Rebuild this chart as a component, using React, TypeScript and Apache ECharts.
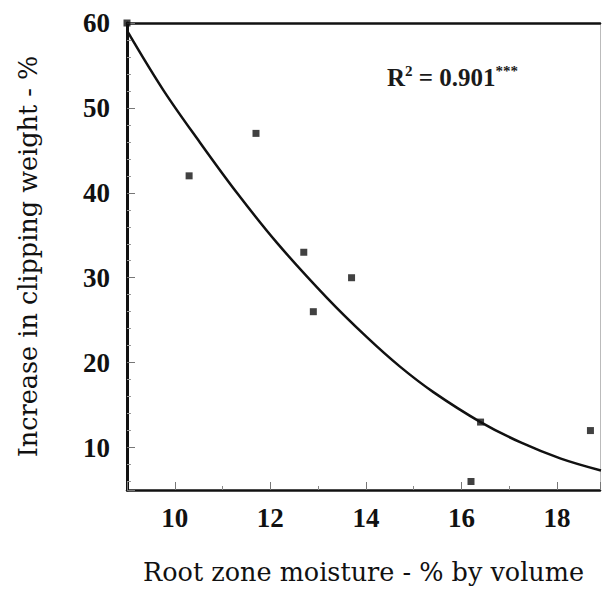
import React, { useEffect, useRef } from "react";
import * as echarts from "echarts";

const moistureX = [9.0, 10.3, 11.7, 12.7, 12.9, 13.7, 16.2, 16.4, 18.7];
const increaseY = [60, 42, 47, 33, 26, 30, 6, 13, 12];

const curveX = [9.0, 9.76, 10.53, 11.3, 12.14, 13.19, 14.02, 14.72, 15.42, 16.4, 17.24, 18.08, 18.92];
const curveY = [59.1, 52.1, 45.9, 40.0, 34.1, 27.6, 23.0, 19.5, 16.5, 13.0, 10.6, 8.7, 7.3];

const xName = "Root zone moisture - % by volume";
const yName = "Increase in clipping weight - %";

const X_MIN = 9;
const X_MAX = 18.9;
const Y_MIN = 5;
const Y_MAX = 60;

export default function App() {
  const ref = useRef<HTMLDivElement>(null);

  useEffect(() => {
    document.body.style.margin = "0";
    if (!ref.current) return;
    const chart = echarts.init(ref.current, undefined, { renderer: "svg" });

    const tickFont = {
      fontFamily: "Liberation Serif",
      fontWeight: "bold" as const,
      fontSize: 27,
      color: "#111",
    };
    const nameFont = {
      fontFamily: "DejaVu Serif",
      fontSize: 25.5,
      color: "#111",
    };

    chart.setOption({
      animation: false,
      backgroundColor: "#ffffff",
      grid: { left: 127, top: 23, width: 473, height: 469, containLabel: false },
      xAxis: [
        {
          type: "value",
          min: X_MIN,
          max: X_MAX,
          name: xName,
          nameLocation: "middle",
          nameGap: 69,
          nameTextStyle: nameFont,
          axisLine: { show: true, onZero: false, lineStyle: { color: "#111", width: 2.5 } },
          axisTick: { show: true, inside: true, length: 8, lineStyle: { color: "#777", width: 1 } },
          minorTick: { show: true, splitNumber: 2, length: 4, lineStyle: { color: "#888", width: 1 } },
          axisLabel: { ...tickFont, margin: 14, showMinLabel: false, showMaxLabel: false },
          splitLine: { show: false },
        },
        {
          type: "value",
          position: "top",
          min: X_MIN,
          max: X_MAX,
          axisLine: { show: true, onZero: false, lineStyle: { color: "#111", width: 2.5 } },
          axisTick: { show: false },
          axisLabel: { show: false },
          splitLine: { show: false },
        },
      ],
      yAxis: [
        {
          type: "value",
          min: Y_MIN,
          max: Y_MAX,
          name: yName,
          nameLocation: "middle",
          nameGap: 86,
          nameTextStyle: nameFont,
          axisLine: { show: true, onZero: false, lineStyle: { color: "#111", width: 3 } },
          axisTick: { show: true, inside: true, length: 8, lineStyle: { color: "#777", width: 1 } },
          minorTick: { show: true, splitNumber: 5, length: 4, lineStyle: { color: "#999", width: 1 } },
          axisLabel: { ...tickFont, margin: 17, showMinLabel: false },
          splitLine: { show: false },
        },
        {
          type: "value",
          position: "right",
          min: Y_MIN,
          max: Y_MAX,
          axisLine: { show: true, onZero: false, lineStyle: { color: "#bbb", width: 1 } },
          axisTick: { show: false },
          axisLabel: { show: false },
          splitLine: { show: false },
        },
      ],
      graphic: [
        {
          type: "text",
          left: 387,
          top: 63,
          style: {
            text: "{a|R}{s|2}{a| = 0.901}{s|***}",
            rich: {
              a: { fontFamily: "Liberation Serif", fontWeight: "bold", fontSize: 25, fill: "#1a1a1a", lineHeight: 29 },
              s: { fontFamily: "Liberation Serif", fontWeight: "bold", fontSize: 15, fill: "#1a1a1a", verticalAlign: "top", lineHeight: 15 },
            },
          },
        },
      ],
      series: [
        {
          type: "line",
          data: curveX.map((x, i) => [x, curveY[i]]),
          smooth: 0.35,
          showSymbol: false,
          symbol: "none",
          lineStyle: { color: "#111", width: 2.5 },
          z: 2,
        },
        {
          type: "scatter",
          data: moistureX.map((x, i) => [x, increaseY[i]]),
          symbol: "rect",
          symbolSize: 7,
          itemStyle: { color: "#111" },
          clip: false,
          z: 3,
        },
      ],
    });

    return () => chart.dispose();
  }, []);

  return <div ref={ref} style={{ width: 602, height: 590 }} />;
}
